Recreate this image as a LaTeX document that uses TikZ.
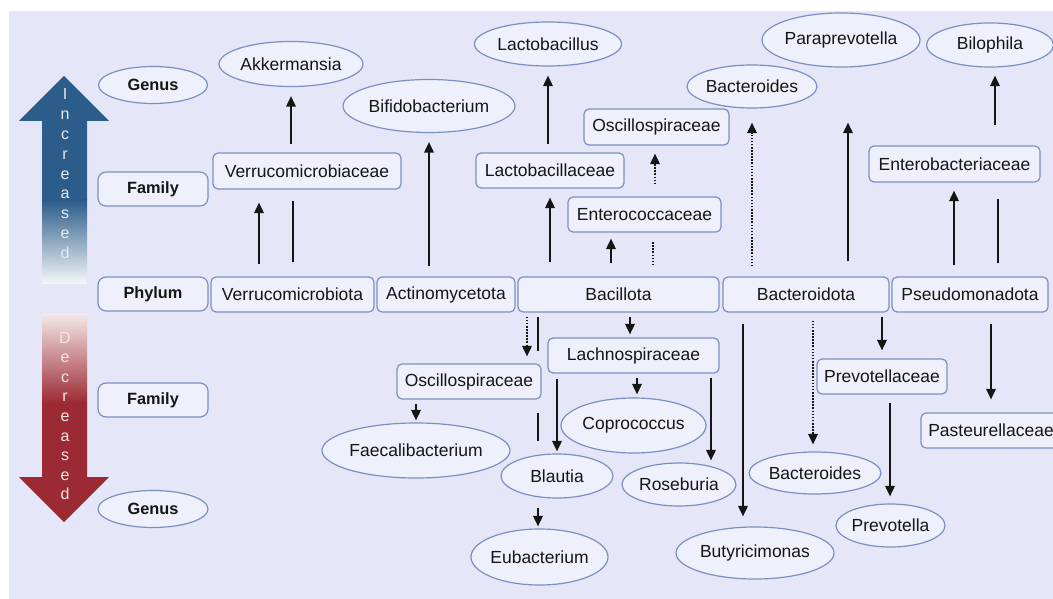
\documentclass[tikz,border=0pt]{standalone}
\usepackage{fontspec}
\setmainfont{Liberation Sans}
\usetikzlibrary{shapes.geometric,arrows.meta}
\definecolor{bgc}{HTML}{E5E7F8}
\definecolor{nfill}{HTML}{EEF1FB}
\definecolor{nbord}{HTML}{7D8FC2}
\definecolor{upblue}{HTML}{2C5C89}
\definecolor{downred}{HTML}{9C2A34}
\definecolor{ink}{HTML}{151515}
\newcommand\mz[1]{\makebox[0pt]{#1}}
\newcommand\conarrow[6]{\draw[#1] ([yshift=#4pt]#2 -| #6,0) -- ([yshift=#5pt]#3 -| #6,0);}
\begin{document}
\begin{tikzpicture}[x=1pt,y=-1pt,
  box/.style={draw=nbord, fill=nfill, line width=1.2pt, rounded corners=5pt, inner sep=0pt, font=\fontsize{17.5}{20}\selectfont, text=ink},
  oval/.style={ellipse, draw=nbord, fill=nfill, line width=1.2pt, inner sep=0pt, font=\fontsize{17.5}{20}\selectfont, text=ink},
  lbl/.style={font=\bfseries\fontsize{16.3}{18}\selectfont, rounded corners=8pt},
  arr/.style={draw=ink, line width=1.8pt, -{Triangle[length=10.5pt,width=9.5pt]}},
  ln/.style={draw=ink, line width=1.8pt},
  dotln/.style={dash pattern=on 1.6pt off 1.5pt},
  lett/.style={anchor=base, font=\fontsize{16}{18}\selectfont, inner sep=0pt}
]
\useasboundingbox (0,0) rectangle (1053,599);
\fill[white] (0,0) rectangle (1053,599);
\fill[bgc] (9,11) rectangle (1053,599);

% big arrows
\fill[upblue] (64,76) -- (109,121) -- (87,121) -- (87,200.5) -- (42,200.5) -- (42,121) -- (19,121) -- cycle;
\shade[top color=upblue, bottom color=upblue!6!white] (42,200) rectangle (87,283);
\shade[top color=downred!10!white, bottom color=downred] (42,313) rectangle (87,403);
\fill[downred] (42,402.5) -- (87,402.5) -- (87,477) -- (109,477) -- (64,522) -- (19,477) -- (42,477) -- cycle;
\foreach \ch [count=\i] in {I,n,c,r,e,a,s,e,d}
  \node[lett, text=white!88!upblue] (inc\i) at (65,{100+19.8*(\i-1)}) {\ch};
\foreach \ch [count=\i] in {D,e,c,r,e,a,s,e,d}
  \node[lett, text=white!88!downred] (dec\i) at (65,{343+19.6*(\i-1)}) {\ch};

% level labels
\node[oval, lbl, minimum width=109pt, minimum height=37pt] (gen1) at (153,85) {\mz{Genus}};
\node[box, lbl, minimum width=110pt, minimum height=34pt] (fam1) at (153,189) {Family};
\node[box, lbl, minimum width=110pt, minimum height=34pt] (phy) at (153,294) {Phylum};
\node[box, lbl, minimum width=110pt, minimum height=34pt] (fam2) at (153,400) {Family};
\node[oval, lbl, minimum width=110pt, minimum height=37pt] (gen2) at (153,509) {\mz{Genus}};

% phylum row
\node[box, minimum width=163pt, minimum height=35pt] (verP) at (292.5,294.5) {Verrucomicrobiota};
\node[box, minimum width=138pt, minimum height=35pt] (actP) at (446,294.5) {Actinomycetota};
\node[box, minimum width=201pt, minimum height=35pt] (bacP) at (618.5,294.5) {Bacillota};
\node[box, minimum width=166pt, minimum height=35pt] (btdP) at (806,294.5) {Bacteroidota};
\node[box, minimum width=156pt, minimum height=35pt] (psdP) at (970,294.5) {Pseudomonadota};

% increased
\node[box, minimum width=188pt, minimum height=36pt] (verF) at (307,171) {Verrucomicrobiaceae};
\node[oval, minimum width=144pt, minimum height=45pt] (akk) at (291,64) {\mz{Akkermansia}};
\node[oval, minimum width=172pt, minimum height=53pt] (bifido) at (429,106) {\mz{Bifidobacterium}};
\node[oval, minimum width=147pt, minimum height=44pt] (lacto) at (548,44) {\mz{Lactobacillus}};
\node[box, minimum width=148pt, minimum height=35pt] (lactoF) at (550,170.5) {Lactobacillaceae};
\node[box, minimum width=153pt, minimum height=35pt] (entF) at (644.5,214.5) {Enterococcaceae};
\node[box, minimum width=145pt, minimum height=36pt] (oscT) at (656.5,127) {Oscillospiraceae};
\node[oval, minimum width=130pt, minimum height=43pt] (bactT) at (752,86.5) {\mz{Bacteroides}};
\node[oval, minimum width=158pt, minimum height=54pt] (para) at (841,40) {\mz{Paraprevotella}};
\node[oval, minimum width=127pt, minimum height=44pt] (bilo) at (990,45) {\mz{Bilophila}};
\node[box, minimum width=171pt, minimum height=36pt] (entbF) at (954.5,164) {Enterobacteriaceae};

% decreased
\node[box, minimum width=171pt, minimum height=35pt] (lachF) at (633.5,355.5) {Lachnospiraceae};
\node[box, minimum width=144pt, minimum height=35pt] (oscB) at (469,381.5) {Oscillospiraceae};
\node[oval, minimum width=188pt, minimum height=55pt] (faec) at (416,450.5) {\mz{Faecalibacterium}};
\node[oval, minimum width=112pt, minimum height=44pt] (blaut) at (557,476) {\mz{Blautia}};
\node[oval, minimum width=145pt, minimum height=55pt] (copro) at (633.5,425.5) {\mz{Coprococcus}};
\node[oval, minimum width=114pt, minimum height=43pt] (rose) at (679,484.5) {\mz{Roseburia}};
\node[oval, minimum width=137pt, minimum height=56pt] (eubac) at (539.5,557) {\mz{Eubacterium}};
\node[oval, minimum width=158pt, minimum height=52pt] (butyr) at (755,553) {\mz{Butyricimonas}};
\node[oval, minimum width=132pt, minimum height=42pt] (bactB) at (815,473) {\mz{Bacteroides}};
\node[box, minimum width=130pt, minimum height=35pt] (prevF) at (882,376.5) {Prevotellaceae};
\node[oval, minimum width=109pt, minimum height=43pt] (prevo) at (890.5,525.5) {\mz{Prevotella}};
\node[box, minimum width=140pt, minimum height=35pt] (pastF) at (991,430.5) {Pasteurellaceae};

% connectors: increased
\conarrow{arr}{verP.north}{verF.south}{12}{-13}{259}
\conarrow{ln}{verP.north}{verF.south}{14}{-11}{293}
\conarrow{arr}{verF.north}{akk.south}{8}{-9}{291}
\conarrow{arr}{actP.north}{bifido.south}{10}{-9}{429}
\conarrow{arr}{lactoF.north}{lacto.south}{8}{-9}{548}
\conarrow{arr}{bacP.north}{lactoF.south}{14}{-9}{550}
\conarrow{arr}{bacP.north}{entF.south}{13}{-6}{611}
\conarrow{ln,dotln}{bacP.north}{entF.south}{11}{-9}{653}
\conarrow{arr,dotln}{entF.north}{oscT.south}{12}{-8}{655}
\conarrow{arr,dotln}{btdP.north}{bactT.south}{10}{-14}{752}
\conarrow{arr}{btdP.north}{para.south}{15}{-55}{848}
\conarrow{arr}{psdP.north}{entbF.south}{11}{-8}{954}
\conarrow{ln}{psdP.north}{entbF.south}{13}{-16}{998}
\conarrow{arr}{entbF.north}{bilo.south}{20}{-8}{995}

% connectors: decreased
\conarrow{arr,dotln}{bacP.south}{oscB.north}{-4}{7}{527}
\conarrow{ln}{bacP.south}{oscB.north}{-4}{12}{538}
\conarrow{arr}{bacP.south}{lachF.north}{-4}{3}{630}
\conarrow{arr}{oscB.south}{faec.north}{-4}{2}{416}
\conarrow{ln}{oscB.south}{blaut.north}{-13}{12}{538}
\conarrow{arr}{lachF.south}{blaut.north}{-5}{2}{557}
\conarrow{arr}{lachF.south}{copro.north}{-4}{3}{637}
\conarrow{arr}{lachF.south}{rose.north}{-4}{2}{711}
\conarrow{arr}{blaut.south}{eubac.north}{-9}{2}{538}
\conarrow{arr}{btdP.south}{butyr.north}{-11}{10}{743}
\conarrow{arr,dotln}{btdP.south}{bactB.north}{-8}{7}{813}
\conarrow{arr}{btdP.south}{prevF.north}{-4}{8}{882}
\conarrow{arr}{prevF.south}{prevo.north}{-8}{7}{890}
\conarrow{arr}{psdP.south}{pastF.north}{-11}{13}{991}
\end{tikzpicture}
\end{document}
